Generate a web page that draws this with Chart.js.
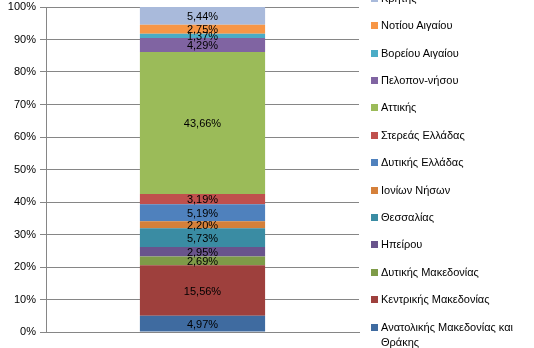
<!DOCTYPE html>
<html>
<head>
<meta charset="utf-8">
<script src="https://cdn.jsdelivr.net/npm/chart.js@4"></script>
<style>
  html, body { margin: 0; padding: 0; background: #fff; }
  #wrap { position: relative; width: 534px; height: 348px; overflow: hidden; }
  canvas { position: absolute; left: 0; top: 0; }
  #legend { position: absolute; left: 0; top: 0; width: 534px; height: 348px; pointer-events: none;
            font-family: "Liberation Sans", Arial, sans-serif; font-size: 11px; color: #000; }
  .item { position: absolute; left: 371px; width: 160px; line-height: 15.5px; }
  .box { position: absolute; left: 0; top: 4px; width: 7px; height: 7px; }
  .txt { position: absolute; left: 10px; width: 150px; white-space: normal; }
</style>
</head>
<body>
<div id="wrap">
  <canvas id="c" width="534" height="348"></canvas>
  <div id="legend"></div>
</div>
<script>
// Categories (bottom to top of the stack)
const regions = [
  "Ανατολικής Μακεδονίας και Θράκης",
  "Κεντρικής Μακεδονίας",
  "Δυτικής Μακεδονίας",
  "Ηπείρου",
  "Θεσσαλίας",
  "Ιονίων Νήσων",
  "Δυτικής Ελλάδας",
  "Στερεάς Ελλάδας",
  "Αττικής",
  "Πελοπον-νήσου",
  "Βορείου Αιγαίου",
  "Νοτίου Αιγαίου",
  "Κρήτης"
];
// Share of each region (%)
const shares = [4.97, 15.56, 2.69, 2.95, 5.73, 2.20, 5.19, 3.19, 43.66, 4.29, 1.37, 2.75, 5.44];
const colors = [
  "#3F6BA0", "#9E403D", "#7E9B48", "#69548C", "#3A8CA3", "#D5803A",
  "#4F81BD", "#C0504D", "#9BBB59", "#8064A2", "#4BACC6", "#F79646", "#A9BADB"
];
const yTicks = [0, 10, 20, 30, 40, 50, 60, 70, 80, 90, 100];

const FONT = '"Liberation Sans", Arial, sans-serif';

const datasets = regions.map((r, i) => ({
  label: r,
  data: [shares[i]],
  backgroundColor: colors[i],
  borderWidth: 0,
  barPercentage: 0.4,
  categoryPercentage: 1.0
}));

const segLabels = {
  id: 'segLabels',
  afterDatasetsDraw(chart) {
    const ctx = chart.ctx;
    ctx.save();
    ctx.font = '11px ' + FONT;
    ctx.fillStyle = '#000';
    ctx.textAlign = 'center';
    ctx.textBaseline = 'middle';
    chart.data.datasets.forEach((ds, i) => {
      const meta = chart.getDatasetMeta(i);
      meta.data.forEach((bar, j) => {
        const v = ds.data[j];
        const yc = (bar.y + bar.base) / 2;
        ctx.fillText(v.toFixed(2).replace('.', ',') + '%', bar.x, yc + 1);
      });
    });
    ctx.restore();
  }
};

new Chart(document.getElementById('c'), {
  type: 'bar',
  data: { labels: [''], datasets },
  options: {
    responsive: false,
    animation: false,
    devicePixelRatio: 1,
    layout: { padding: { left: 0, right: 175, top: 7, bottom: 16 } },
    plugins: { legend: { display: false }, tooltip: { enabled: false } },
    scales: {
      x: {
        stacked: true,
        grid: { display: false },
        border: { display: true, color: '#868686', width: 1 },
        ticks: { display: false },
        afterFit(s) { s.height = 0; s.paddingLeft = 0; s.paddingRight = 0; }
      },
      y: {
        stacked: true,
        min: 0, max: 100,
        afterBuildTicks(s) { s.ticks = yTicks.map(v => ({ value: v })); },
        grid: { color: '#868686', lineWidth: 1, tickLength: 6, drawTicks: true, tickColor: '#868686' },
        border: { display: true, color: '#868686', width: 1 },
        ticks: {
          font: { family: FONT, size: 11 },
          color: '#000',
          padding: 4,
          callback: v => v + '%'
        },
        afterFit(s) { s.width = 46; s.paddingTop = 0; s.paddingBottom = 0; }
      }
    }
  },
  plugins: [segLabels]
});

// Legend (reverse order: top item = last series)
const legend = document.getElementById('legend');
const order = regions.map((r, i) => i).reverse();
order.forEach((idx, k) => {
  const center = -1.4 + k * 27.4;
  const item = document.createElement('div');
  item.className = 'item';
  item.style.top = (center - 7.75) + 'px';
  const box = document.createElement('div');
  box.className = 'box';
  box.style.background = colors[idx];
  const txt = document.createElement('div');
  txt.className = 'txt';
  txt.textContent = regions[idx];
  item.appendChild(box);
  item.appendChild(txt);
  legend.appendChild(item);
});
</script>
</body>
</html>
